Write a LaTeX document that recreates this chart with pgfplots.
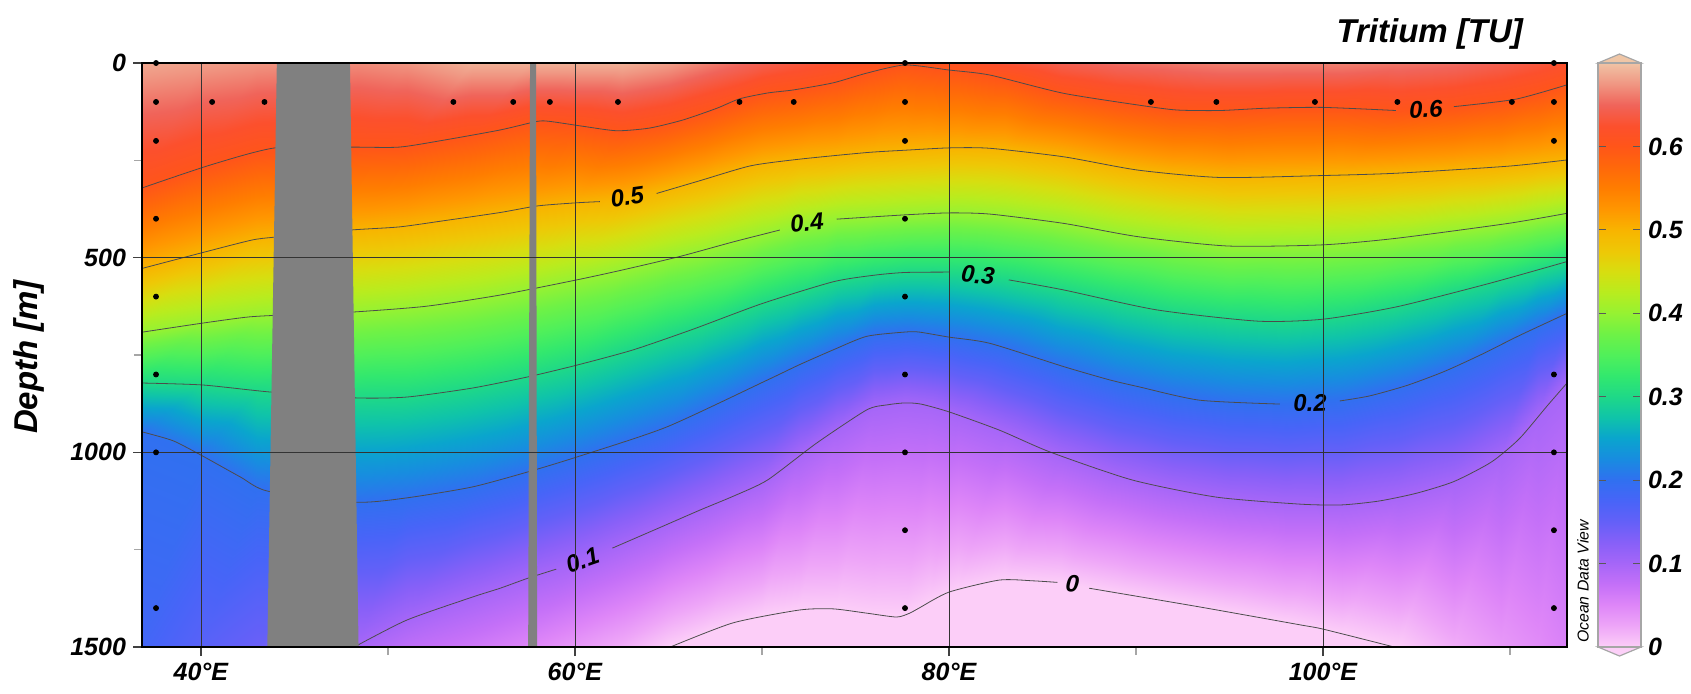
\documentclass[border=0pt]{standalone}
\usepackage{fontspec}
\setmainfont{Liberation Sans}
\usepackage{pgfplots}
\pgfplotsset{compat=1.18}
\definecolor{odvgray}{RGB}{128,128,128}
\definecolor{tiptop}{RGB}{240,198,166}
\definecolor{tipbot}{RGB}{252,208,248}
\newcommand{\tickfont}{\fontsize{12.5}{15}\selectfont\bfseries\itshape}
\newcommand{\labfont}{\fontsize{16.5}{19}\selectfont\bfseries\itshape}
\newcommand{\clfont}{\fontsize{12}{14}\selectfont\bfseries\itshape}
\pgfplotsset{
  colormap={odv}{
    rgb255(0pt)=(252,206,248) rgb255(25pt)=(238,166,248) rgb255(50pt)=(222,134,248)
    rgb255(75pt)=(196,112,248) rgb255(100pt)=(166,102,248) rgb255(125pt)=(136,96,248)
    rgb255(150pt)=(100,96,248) rgb255(175pt)=(72,100,248) rgb255(200pt)=(48,112,240)
    rgb255(225pt)=(24,140,224) rgb255(250pt)=(10,165,205) rgb255(275pt)=(15,195,170)
    rgb255(300pt)=(30,216,136) rgb255(325pt)=(50,232,110) rgb255(350pt)=(80,240,90)
    rgb255(375pt)=(110,242,70) rgb255(400pt)=(150,242,50) rgb255(425pt)=(185,236,30)
    rgb255(450pt)=(215,222,16) rgb255(475pt)=(238,200,6) rgb255(500pt)=(248,180,0)
    rgb255(525pt)=(255,150,0) rgb255(550pt)=(255,125,0) rgb255(575pt)=(255,104,10)
    rgb255(600pt)=(255,85,25) rgb255(625pt)=(252,80,45) rgb255(650pt)=(240,100,90)
    rgb255(675pt)=(240,150,130) rgb255(700pt)=(240,195,165)
  },
  cline/.style={black!70, line width=0.4pt, smooth, tension=0.4, no markers},
}
\tikzset{clab/.style={font=\clfont, inner sep=0pt}}
\begin{document}
\begin{tikzpicture}
\useasboundingbox (0,0) rectangle (845.5pt,346.5pt);
\begin{axis}[
  at={(71pt,23pt)}, anchor=south west, scale only axis,
  width=712.5pt, height=292pt,
  xmin=36.85, xmax=113.05, ymin=0, ymax=1500, y dir=reverse,
  xtick={40,60,80,100}, xticklabels={40°E,60°E,80°E,100°E},
  minor xtick={50,70,90,110},
  ytick={0,500,1000,1500}, yticklabels={0,500,1000,1500},
  minor ytick={250,750,1250},
  tick pos=left, tick align=outside,
  major tick length=4.5pt, minor tick length=4pt,
  major tick style={black!75, line width=0.6pt},
  minor tick style={black!35, line width=0.6pt},
  grid=major, major grid style={black!80, line width=0.35pt},
  axis line style={black, line width=1.3pt},
  ticklabel style={font=\tickfont},
  axis on top,
  colormap name=odv, point meta min=0, point meta max=0.7,
]
\addplot[surf, shader=interp, mesh/cols=9, point meta=\thisrow{v}] table[x=x, y=y] {
x y v
36.85 0 0.685
36.85 321 0.6
36.85 528 0.5
36.85 691 0.4
36.85 822 0.3
36.85 947 0.2
36.85 1500 0.18
36.85 1500 0.18
36.85 1500 0.18
40 0 0.68
40 270 0.6
40 488 0.5
40 668 0.4
40 827 0.3
40 1007 0.2
40 1500 0.16
40 1500 0.16
40 1500 0.16
43 0 0.675
43 230 0.6
43 453 0.5
43 650 0.4
43 841 0.3
43 1090 0.2
43 1500 0.145
43 1500 0.145
43 1500 0.145
48.4 0 0.67
48.4 216 0.6
48.4 428 0.5
48.4 639 0.4
48.4 860 0.3
48.4 1128 0.2
48.4 1495 0.1
48.4 1500 0.098
48.4 1500 0.098
51 0 0.675
51 214 0.6
51 418 0.5
51 629 0.4
51 858 0.3
51 1117 0.2
51 1431 0.1
51 1500 0.08
51 1500 0.08
54.5 0 0.69
54.5 184 0.6
54.5 395 0.5
54.5 608 0.4
54.5 835 0.3
54.5 1089 0.2
54.5 1372 0.1
54.5 1500 0.065
54.5 1500 0.065
57.5 0 0.69
57.5 153 0.6
57.5 375 0.5
57.5 582 0.4
57.5 806 0.3
57.5 1050 0.2
57.5 1323 0.1
57.5 1500 0.05
57.5 1500 0.05
60 0 0.69
60 160 0.6
60 360 0.5
60 558 0.4
60 777 0.3
60 1014 0.2
60 1283 0.1
60 1500 0.035
60 1500 0.035
62.5 0 0.69
62.5 174 0.6
62.5 348 0.5
62.5 532 0.4
62.5 740 0.3
62.5 974 0.2
62.5 1236 0.1
62.5 1500 0.02
62.5 1500 0.02
65 0 0.68
65 155 0.6
65 320 0.5
65 502 0.4
65 700 0.3
65 933 0.2
65 1184 0.1
65 1500 0
65 1500 0
67 0 0.665
67 126 0.6
67 298 0.5
67 479 0.4
67 672 0.3
67 888 0.2
67 1142 0.1
67 1465 0
67 1500 -0.01
70 0 0.645
70 80 0.6
70 260 0.5
70 441 0.4
70 618 0.3
70 820 0.2
70 1077 0.1
70 1420 0
70 1500 -0.015
72 0 0.635
72 66 0.6
72 247 0.5
72 415 0.4
72 590 0.3
72 775 0.2
72 1005 0.1
72 1405 0
72 1500 -0.02
74 0 0.625
74 49 0.6
74 238 0.5
74 401 0.4
74 560 0.3
74 733 0.2
74 942 0.1
74 1403 0
74 1500 -0.02
76 0 0.612
76 22 0.6
76 229 0.5
76 395 0.4
76 545 0.3
76 697 0.2
76 885 0.1
76 1416 0
76 1500 -0.02
77.65 0 0.603
77.65 5 0.6
77.65 224 0.5
77.65 390 0.4
77.65 538 0.3
77.65 691 0.2
77.65 873 0.1
77.65 1417 0
77.65 1500 -0.02
79 0 0.606
79 12 0.6
79 220 0.5
79 387 0.4
79 537 0.3
79 695 0.2
79 882 0.1
79 1385 0
79 1500 -0.02
80.5 0 0.612
80.5 20 0.6
80.5 218 0.5
80.5 385 0.4
80.5 539 0.3
80.5 706 0.2
80.5 905 0.1
80.5 1354 0
80.5 1500 -0.02
83 0 0.63
83 38 0.6
83 222 0.5
83 392 0.4
83 555 0.3
83 730 0.2
83 948 0.1
83 1328 0
83 1500 -0.02
86 0 0.645
86 76 0.6
86 240 0.5
86 411 0.4
86 582 0.3
86 778 0.2
86 1010 0.1
86 1335 0
86 1500 -0.02
89 0 0.655
89 99 0.6
89 265 0.5
89 436 0.4
89 612 0.3
89 822 0.2
89 1058 0.1
89 1361 0
89 1500 -0.02
92 0 0.66
92 119 0.6
92 283 0.5
92 455 0.4
92 639 0.3
92 852 0.2
92 1093 0.1
92 1386 0
92 1500 -0.02
95 0 0.665
95 121 0.6
95 294 0.5
95 470 0.4
95 656 0.3
95 870 0.2
95 1118 0.1
95 1410 0
95 1500 -0.02
98 0 0.665
98 116 0.6
98 291 0.5
98 468 0.4
98 662 0.3
98 876 0.2
98 1131 0.1
98 1436 0
98 1500 -0.015
101 0 0.665
101 116 0.6
101 288 0.5
101 463 0.4
101 650 0.3
101 866 0.2
101 1133 0.1
101 1465 0
101 1500 -0.01
104 0 0.66
104 122 0.6
104 283 0.5
104 450 0.4
104 625 0.3
104 830 0.2
104 1112 0.1
104 1500 0
104 1500 0
107 0 0.655
107 112 0.6
107 274 0.5
107 431 0.4
107 589 0.3
107 782 0.2
107 1075 0.1
107 1500 0.02
107 1500 0.02
109.5 0 0.645
109.5 98 0.6
109.5 267 0.5
109.5 415 0.4
109.5 558 0.3
109.5 725 0.2
109.5 1010 0.1
109.5 1500 0.035
109.5 1500 0.035
111.5 0 0.635
111.5 77 0.6
111.5 257 0.5
111.5 398 0.4
111.5 531 0.3
111.5 677 0.2
111.5 905 0.1
111.5 1500 0.045
111.5 1500 0.045
113.05 0 0.625
113.05 56 0.6
113.05 249 0.5
113.05 386 0.4
113.05 510 0.3
113.05 643 0.2
113.05 822 0.1
113.05 1500 0.055
113.05 1500 0.055
};
% contour 0.6
\addplot[cline] coordinates {(36.85,321) (40.5,262) (43.96,218) (48,216) (50.6,216) (53,198) (56,172) (57.97,150) (58.66,150) (60.5,163) (62.25,174) (64,167) (65.8,146) (67.6,116) (68.8,92) (70.3,77) (71.7,69) (73.8,51) (75.6,26) (77.65,5) (80,18) (82.2,31) (86.15,78) (90.7,112) (92.3,121) (94.5,122) (97,116) (100,114) (103.9,122)};
\addplot[cline] coordinates {(107,112) (110.3,93) (113.05,56)};
% contour 0.5
\addplot[cline] coordinates {(36.9,527) (40,488) (42.7,455) (44,447) (48,429) (50.6,421) (53,405) (56,384) (58,367) (60.1,359) (61.33,356)};
\addplot[cline] coordinates {(64.37,335) (66.7,302) (69.4,264) (72,247) (75.6,230) (77.65,224) (80,218) (82.19,219) (86.15,241) (90.1,275) (94.5,294) (100,289) (103.96,283) (109.9,265) (113.05,249)};
% contour 0.4
\addplot[cline] coordinates {(36.9,691) (40.1,668) (42.6,652) (45,646) (48,640) (52,625) (56,596) (60.1,557) (62.5,532) (65.6,497) (68.5,459) (70.96,429)};
\addplot[cline] coordinates {(74,401) (77.65,390) (80,385) (82.19,388) (86.15,412) (90.1,446) (94.9,470) (100,467) (103.96,450) (109.9,412) (113.05,386)};
% contour 0.3
\addplot[cline] coordinates {(36.9,822) (40.1,827) (43.7,845) (48.2,860) (51,858) (54.5,835) (57.5,806) (60.1,776) (63.1,737) (66.3,684) (70,618) (73.8,562) (76,545) (77.65,538) (80,537)};
\addplot[cline] coordinates {(83.2,557) (86.15,583) (91.1,634) (96.5,663) (100,658) (103.96,626) (108.9,566) (113.05,510)};
% contour 0.2
\addplot[cline] coordinates {(36.9,948) (38.5,970) (40,1007) (42.1,1063) (43.6,1100) (48.3,1128) (51,1117) (54.5,1089) (57.5,1050) (60.1,1012) (64.9,935) (70.3,814) (72,775) (73.8,737) (75.6,702) (77.65,691) (78.4,691) (80,704) (82.19,720) (86.15,780) (88.6,814) (90.1,831) (93.4,866) (97.7,876)};
\addplot[cline] coordinates {(100.9,868) (102.5,855) (104.5,828) (106.5,792) (108.5,748) (110.5,700) (113.05,643)};
% contour 0.1
\addplot[cline] coordinates {(48.2,1500) (51,1431) (54.5,1372) (56,1349) (57.5,1323) (59,1300)};
\addplot[cline] coordinates {(62,1246) (64.5,1194) (66.7,1148) (68.5,1112) (70.3,1071) (72.9,977) (75.6,891) (76.7,878) (77.65,873) (78.5,876) (80,896) (82.7,943) (85.4,999) (89.8,1071) (94.3,1115) (98.77,1133) (101,1135) (103,1125) (105,1105) (107,1075) (109,1025) (110.5,965) (112,880) (113.05,822)};
% contour 0
\addplot[cline] coordinates {(65.1,1500) (68.45,1438) (72,1405) (73.8,1402) (75.6,1413) (77.2,1423) (77.9,1413) (78.4,1400) (80,1359) (82.7,1328) (84.5,1330) (85.8,1334)};
\addplot[cline] coordinates {(87.5,1349) (93.4,1397) (98.77,1443) (100,1454) (103.4,1495) (103.8,1500)};
% land / gaps
\addplot[draw=none, fill=odvgray] coordinates {(44.06,0) (47.97,0) (48.43,1500) (43.55,1500)} -- cycle;
\addplot[draw=none, fill=odvgray] coordinates {(57.6,0) (57.92,0) (57.98,1500) (57.5,1500)} -- cycle;
% stations
\addplot[only marks, mark=*, mark size=1.25pt, black] coordinates {
(37.6,0) (37.6,100) (37.6,200) (37.6,400) (37.6,600) (37.6,800) (37.6,1000) (37.6,1400)
(40.6,100) (43.4,100) (53.5,100) (56.7,100) (58.66,100) (62.3,100) (68.8,100) (71.7,100)
(77.65,0) (77.65,100) (77.65,200) (77.65,400) (77.65,600) (77.65,800) (77.65,1000) (77.65,1200) (77.65,1400)
(90.8,100) (94.3,100) (99.57,100) (103.98,100) (110.1,100)
(112.35,0) (112.35,100) (112.35,200) (112.35,800) (112.35,1000) (112.35,1200) (112.35,1400)};
% contour labels
\node[clab, rotate=3] at (axis cs:105.5,118) {0.6};
\node[clab, rotate=8] at (axis cs:62.8,344) {0.5};
\node[clab, rotate=6] at (axis cs:72.4,411) {0.4};
\node[clab, rotate=-5] at (axis cs:81.55,545) {0.3};
\node[clab, rotate=2] at (axis cs:99.3,873) {0.2};
\node[clab, rotate=19] at (axis cs:60.4,1277) {0.1};
\node[clab, rotate=-4] at (axis cs:86.6,1338) {0};
\end{axis}
% colour bar
\begin{axis}[
  at={(799pt,23pt)}, anchor=south west, scale only axis,
  width=21.5pt, height=292pt,
  xmin=0, xmax=1, ymin=0, ymax=0.7,
  xtick=\empty,
  ytick={0,0.1,0.2,0.3,0.4,0.5,0.6}, yticklabels={0,0.1,0.2,0.3,0.4,0.5,0.6},
  ytick pos=both, yticklabel pos=right,
  tick align=inside, major tick length=4pt,
  major tick style={black!65, line width=0.6pt},
  axis line style={draw=black!35, line width=0.6pt},
  ticklabel style={font=\tickfont},
  axis on top, clip=false,
  colormap name=odv, point meta min=0, point meta max=0.7,
]
\addplot[surf, shader=interp, mesh/cols=2, point meta=\thisrow{v}] table[x=x, y=y] {
x y v
0 0 0
1 0 0
0 0.025 0.025
1 0.025 0.025
0 0.05 0.05
1 0.05 0.05
0 0.075 0.075
1 0.075 0.075
0 0.1 0.1
1 0.1 0.1
0 0.125 0.125
1 0.125 0.125
0 0.15 0.15
1 0.15 0.15
0 0.175 0.175
1 0.175 0.175
0 0.2 0.2
1 0.2 0.2
0 0.225 0.225
1 0.225 0.225
0 0.25 0.25
1 0.25 0.25
0 0.275 0.275
1 0.275 0.275
0 0.3 0.3
1 0.3 0.3
0 0.325 0.325
1 0.325 0.325
0 0.35 0.35
1 0.35 0.35
0 0.375 0.375
1 0.375 0.375
0 0.4 0.4
1 0.4 0.4
0 0.425 0.425
1 0.425 0.425
0 0.45 0.45
1 0.45 0.45
0 0.475 0.475
1 0.475 0.475
0 0.5 0.5
1 0.5 0.5
0 0.525 0.525
1 0.525 0.525
0 0.55 0.55
1 0.55 0.55
0 0.575 0.575
1 0.575 0.575
0 0.6 0.6
1 0.6 0.6
0 0.625 0.625
1 0.625 0.625
0 0.65 0.65
1 0.65 0.65
0 0.675 0.675
1 0.675 0.675
0 0.7 0.7
1 0.7 0.7
};
\addplot[draw=black!35, line width=0.6pt, fill=tiptop] coordinates {(0,0.7) (0.5,0.7108) (1,0.7)} -- cycle;
\addplot[draw=black!35, line width=0.6pt, fill=tipbot] coordinates {(0,0) (0.5,-0.0108) (1,0)} -- cycle;
\end{axis}
\node[font=\labfont, rotate=90] at (14.5pt,168pt) {Depth [m]};
\node[font=\labfont, anchor=east] at (765pt,329.5pt) {Tritium [TU]};
\node[font=\fontsize{7.9}{9}\selectfont\itshape, rotate=90] at (791.5pt,55.75pt) {Ocean Data View};
\end{tikzpicture}
\end{document}
